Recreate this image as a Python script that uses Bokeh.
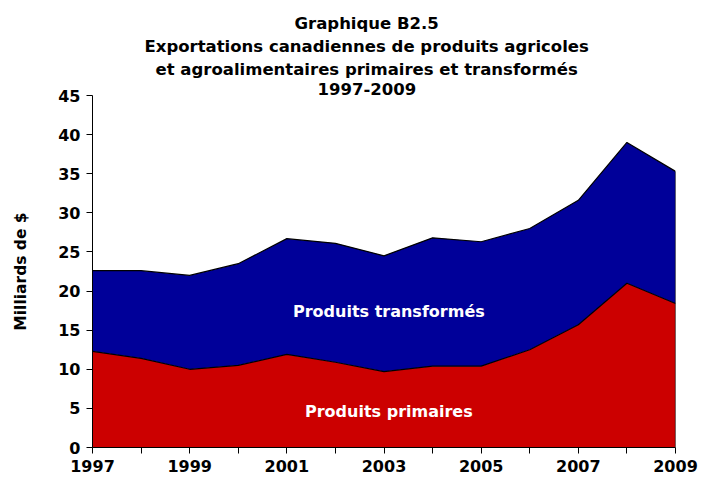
from bokeh.plotting import figure
from bokeh.models import Range1d, FixedTicker, Label, ColumnDataSource, Title
from bokeh.embed import file_html
from bokeh.resources import INLINE

years = [1997, 1998, 1999, 2000, 2001, 2002, 2003, 2004, 2005, 2006, 2007, 2008, 2009]
primaires = [12.3, 11.4, 10.0, 10.5, 11.9, 10.9, 9.7, 10.4, 10.4, 12.5, 15.7, 21.0, 18.4]
transformes_total = [22.6, 22.6, 22.0, 23.5, 26.7, 26.1, 24.5, 26.8, 26.3, 28.0, 31.6, 39.0, 35.3]
title_lines = ["Graphique B2.5",
               "Exportations canadiennes de produits agricoles",
               "et agroalimentaires primaires et transformés",
               "1997-2009"]
y_ticks = [0, 5, 10, 15, 20, 25, 30, 35, 40, 45]

FONT = "DejaVu Sans"
# left offsets (px from the frame's left edge) that centre each title line near x=366
title_offsets = [202, 52, 63, 225]

src = ColumnDataSource(dict(x=years, prim=primaires, tot=transformes_total, zero=[0] * len(years)))

p = figure(width=701, height=483, output_backend="svg", toolbar_location=None,
           x_range=Range1d(1997, 2009), y_range=Range1d(0, 45),
           min_border_left=92, min_border_right=26, min_border_top=95, min_border_bottom=36)
p.outline_line_color = None
p.xgrid.visible = False
p.ygrid.visible = False

p.varea(x="x", y1="zero", y2="prim", source=src, fill_color="#CC0000")
p.varea(x="x", y1="prim", y2="tot", source=src, fill_color="#000099")
p.line(x="x", y="prim", source=src, line_color="black", line_width=1.2)
p.line(x="x", y="tot", source=src, line_color="black", line_width=1.2)
p.segment(x0=[years[-1]], y0=[0], x1=[years[-1]], y1=[transformes_total[-1]],
          line_color="black", line_width=1.2)

# axes
p.xaxis.ticker = FixedTicker(ticks=years)
p.xaxis.major_label_overrides = {y: (str(y) if (y - years[0]) % 2 == 0 else "") for y in years}
p.yaxis.ticker = FixedTicker(ticks=y_ticks)
for ax in (p.xaxis, p.yaxis):
    ax.axis_line_color = "black"
    ax.major_tick_line_color = "black"
    ax.minor_tick_line_color = None
    ax.major_tick_in = 0
    ax.major_tick_out = 6
    ax.major_label_text_font = FONT
    ax.major_label_text_font_style = "bold"
    ax.major_label_text_font_size = "16px"
    ax.major_label_text_color = "black"
p.xaxis.major_label_standoff = 6
p.yaxis.major_label_standoff = 6
p.yaxis.axis_label = "Milliards de $"
p.yaxis.axis_label_text_font = FONT
p.yaxis.axis_label_text_font_style = "bold"
p.yaxis.axis_label_text_font_size = "15.5px"
p.yaxis.axis_label_text_color = "black"
p.yaxis.axis_label_standoff = 25

# title lines: later-added titles sit further from the frame
for t, off in reversed(list(zip(title_lines, title_offsets))):
    p.add_layout(Title(text=t, align="left", offset=off, standoff=2,
                       text_font=FONT, text_font_style="bold", text_font_size="16.5px",
                       text_color="black"), "above")

p.add_layout(Label(x=2003.1, y=17.4, text="Produits transformés", text_align="center",
                   text_baseline="middle", text_font=FONT, text_font_style="bold",
                   text_font_size="16px", text_color="white"))
p.add_layout(Label(x=2003.1, y=4.6, text="Produits primaires", text_align="center",
                   text_baseline="middle", text_font=FONT, text_font_style="bold",
                   text_font_size="16px", text_color="white"))

open("out.html", "w").write(file_html(p, INLINE))
